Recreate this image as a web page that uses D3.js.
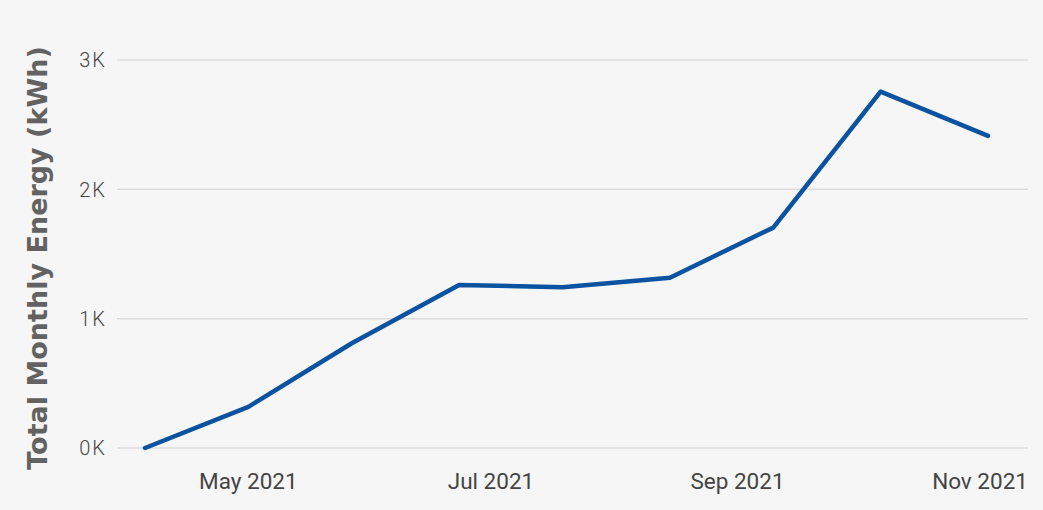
<!DOCTYPE html>
<html>
<head>
<meta charset="utf-8">
<script src="https://cdn.jsdelivr.net/npm/d3@7"></script>
<style>
  html, body { margin: 0; padding: 0; background: #f6f6f6; }
  svg { display: block; }
</style>
</head>
<body>
<div id="chart"></div>
<script>
function init() {

    var w = 1043;
    var h = 510;

    // Reading dates and monthly energy totals (kWh)
    var dates = ["2021-04-05", "2021-05-01", "2021-05-27", "2021-06-23", "2021-07-19",
                 "2021-08-15", "2021-09-10", "2021-10-07", "2021-11-03"];
    var energy = [0, 318, 810, 1260, 1243, 1317, 1704, 2756, 2413];

    var yTicks = [0, 1000, 2000, 3000];
    var yTickLabels = ["0K", "1K", "2K", "3K"];
    var xTicks = ["2021-05-01", "2021-07-01", "2021-09-01", "2021-11-01"];
    var xTickLabels = ["May 2021", "Jul 2021", "Sep 2021", "Nov 2021"];

    var parse = d3.timeParse("%Y-%m-%d");
    var data = dates.map(function (d, i) {
        return { date: parse(d), value: energy[i] };
    });

    var gridLeft = 117;
    var gridRight = 1028;

    var scaleX = d3.scaleTime()
        .domain(d3.extent(data, function (d) { return d.date; }))
        .range([145, 988]);

    var scaleY = d3.scaleLinear()
        .domain([0, 3000])
        .range([448, 60]);

    var svg = d3.select("#chart")
        .append("svg")
        .attr("width", w)
        .attr("height", h);

    svg.append("rect")
        .attr("width", w)
        .attr("height", h)
        .attr("fill", "#f6f6f6");

    // horizontal gridlines
    svg.selectAll("line.grid")
        .data(yTicks)
        .enter()
        .append("line")
        .attr("class", "grid")
        .attr("x1", gridLeft)
        .attr("x2", gridRight)
        .attr("y1", function (d) { return scaleY(d); })
        .attr("y2", function (d) { return scaleY(d); })
        .attr("stroke", "#dcdcdc")
        .attr("stroke-width", 1.5);

    // y tick labels
    svg.selectAll("text.ytick")
        .data(yTicks)
        .enter()
        .append("text")
        .attr("class", "ytick")
        .text(function (d, i) { return yTickLabels[i]; })
        .attr("x", 107)
        .attr("y", function (d) { return scaleY(d); })
        .attr("dy", "0.36em")
        .attr("text-anchor", "end")
        .attr("font-family", "Roboto, sans-serif")
        .attr("font-weight", 300)
        .attr("font-size", "20px")
        .attr("letter-spacing", "2px")
        .attr("fill", "#444");

    // x tick labels
    svg.selectAll("text.xtick")
        .data(xTicks)
        .enter()
        .append("text")
        .attr("class", "xtick")
        .text(function (d, i) { return xTickLabels[i]; })
        .attr("x", function (d) { return scaleX(parse(d)); })
        .attr("y", 489)
        .attr("text-anchor", "middle")
        .attr("font-family", "Roboto, sans-serif")
        .attr("font-size", "22.5px")
        .attr("fill", "#444");

    // y axis title
    svg.append("text")
        .text("Total Monthly Energy (kWh)")
        .attr("transform", "translate(47,258) rotate(-90)")
        .attr("text-anchor", "middle")
        .attr("font-family", "DejaVu Sans, sans-serif")
        .attr("font-weight", "bold")
        .attr("font-size", "27px")
        .attr("fill", "#626262");

    var line = d3.line()
        .x(function (d) { return scaleX(d.date); })
        .y(function (d) { return scaleY(d.value); });

    svg.append("path")
        .datum(data)
        .attr("d", line)
        .attr("fill", "none")
        .attr("stroke", "#0b52a1")
        .attr("stroke-width", 4.5)
        .attr("stroke-linejoin", "round")
        .attr("stroke-linecap", "round");
}

window.onload = init;
</script>
</body>
</html>
